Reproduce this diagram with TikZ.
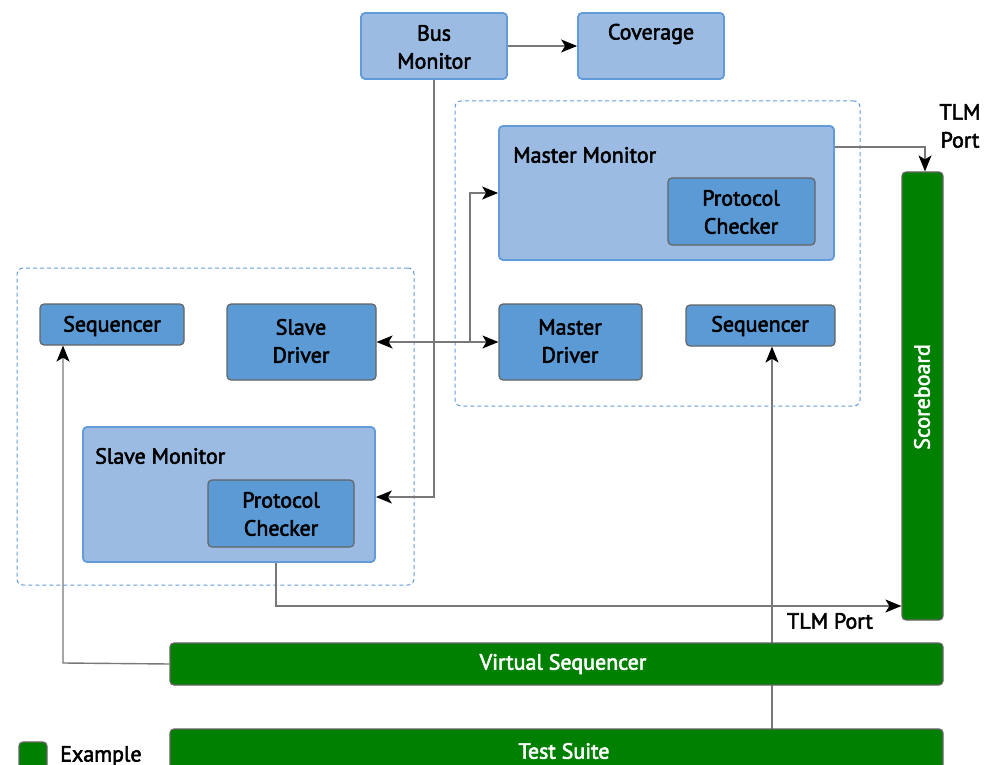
\documentclass[tikz,border=0pt]{standalone}
\usepackage{fontspec}
\setmainfont{PT Sans}[FakeBold=2.5]
\usetikzlibrary{arrows.meta,backgrounds}
\definecolor{lblue}{RGB}{155,187,227}
\definecolor{lbord}{RGB}{98,155,218}
\definecolor{dblue}{RGB}{91,154,213}
\definecolor{gborder}{RGB}{100,100,100}
\definecolor{ggreen}{RGB}{0,128,0}
\definecolor{conn}{RGB}{120,120,120}
\tikzset{
  lbox/.style={draw=lbord,fill=lblue,line width=1.8pt,rounded corners=4pt,inner sep=0pt},
  dbox/.style={draw=gborder,fill=dblue,line width=1.2pt,rounded corners=4pt,inner sep=0pt},
  gbox/.style={draw=gborder,fill=ggreen,line width=1.2pt,rounded corners=4pt,inner sep=0pt},
  grp/.style={draw=lbord,dash pattern=on 4pt off 3pt,line width=1pt,rounded corners=6pt},
  txt/.style={font=\fontsize{22}{28}\selectfont,align=center,inner sep=0pt,text=black},
  wtxt/.style={font=\fontsize{22}{28}\selectfont,align=center,inner sep=0pt,text=white},
  conline/.style={draw=conn,line width=1.4pt},
  tip/.style={-{Stealth[length=16pt,width=13pt,inset=4pt,color=black]}},
  dtip/.style={{Stealth[length=16pt,width=13pt,inset=4pt,color=black]}-{Stealth[length=16pt,width=13pt,inset=4pt,color=black]}}
}
\newcommand{\bx}[6]{\node[#1,minimum width=#4-#2,minimum height=#5-#3] (#6) at ({(#2+#4)/2},{(#3+#5)/2}) {};}
\begin{document}
\begin{tikzpicture}[x=1pt,y=-1pt]
\useasboundingbox (0,0) rectangle (999,765);
% groups
\node[grp,minimum width=405,minimum height=305] (mgrp) at (657.5,253.5) {};
\node[grp,minimum width=397,minimum height=317] (sgrp) at (215.5,426.5) {};
% boxes
\bx{lbox}{361}{13}{507}{79}{bus}
\bx{lbox}{578}{13}{724}{79}{cov}
\bx{lbox}{499}{126}{834}{260}{mmon}
\bx{dbox}{668}{178}{815}{245}{mpc}
\bx{dbox}{499}{304}{642}{380}{mdrv}
\bx{dbox}{686}{305}{835}{346}{mseq}
\bx{gbox}{902}{172}{943}{620}{score}
\bx{dbox}{40}{304}{184}{345}{sseq}
\bx{dbox}{227}{304}{376}{380}{sdrv}
\bx{lbox}{83}{427}{375}{562}{smon}
\bx{dbox}{208}{480}{354}{547}{spc}
\bx{gbox}{170}{643}{943}{685}{vseq}
\bx{gbox}{170}{729}{943}{790}{suite}
\bx{gbox}{19}{742}{47}{790}{leg}
% texts
\node[txt] (busT) at (434,47) {Bus\\Monitor};
\node[txt] (covT) at (651,34) {Coverage};
\node[txt,anchor=west] (mmonT) at (513,155) {Master Monitor};
\node[txt] (mpcT) at (741,212) {Protocol\\Checker};
\node[txt] (mdrvT) at (570,341) {Master\\Driver};
\node[txt] (mseqT) at (760,326) {Sequencer};
\node[wtxt,rotate=90] (scoreT) at (922,397) {Scoreboard};
\node[txt] (sseqT) at (112,326) {Sequencer};
\node[txt] (sdrvT) at (301,341) {Slave\\Driver};
\node[txt,anchor=west] (smonT) at (95,456) {Slave Monitor};
\node[txt] (spcT) at (281,514) {Protocol\\Checker};
\node[wtxt] (vseqT) at (563,664) {Virtual Sequencer};
\node[wtxt] (suiteT) at (564,751) {Test Suite};
\node[txt,anchor=west] (legT) at (60,756) {Example};
\node[txt] (tlm1) at (960,126) {TLM\\Port};
\node[txt] (tlm2) at (830,621) {TLM Port};
% connectors
\coordinate (c1) at (434,497);
\coordinate (c2) at (470,342);
\coordinate (c3) at (925,147);
\coordinate (c4) at (276,606);
\coordinate (c5) at (63,663);
\coordinate (c6) at (772,729);
\draw[conline,tip] (bus.east) -- (cov.west);
\draw[conline,tip] (bus.south -| c1) -- (c1) -- (smon.east |- c1);
\draw[conline,dtip] (sdrv.east) -- (mdrv.west);
\draw[conline,tip] (c2) -- (c2 |- 0,193) -- (mmon.west |- 0,193);
\draw[conline,tip] (mmon.east |- 0,147) -- (c3) -- (score.north -| c3);
\draw[conline,tip] (smon.south -| c4) -- (c4) -- (score.west |- c4);
\draw[conline,tip] (vseq.west) -- (c5) -- (sseq.south -| c5);
\begin{scope}[on background layer]
\draw[conline,tip] (c6) -- (mseq.south -| c6);
\end{scope}
\end{tikzpicture}
\end{document}
